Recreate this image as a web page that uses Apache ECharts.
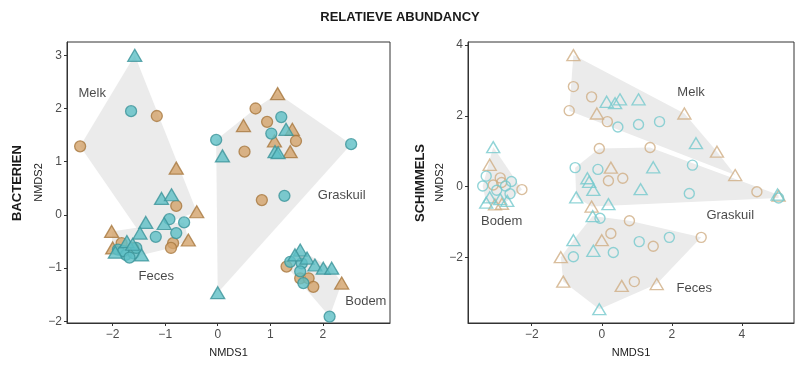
<!DOCTYPE html>
<html><head><meta charset="utf-8">
<script src="https://cdn.jsdelivr.net/npm/echarts@6/dist/echarts.min.js"></script>
<style>html,body{margin:0;padding:0;background:#fff}#c{width:800px;height:366px}</style>
</head><body><div id="c"></div>
<script>
// point = [NMDS1, NMDS2, colourKey (A teal / B tan), shapeKey (o circle / t triangle)]
const bactMelk = [
  [-1.58, 3.00, 'A','t'], [-1.65, 1.95, 'A','o'], [-1.16, 1.86, 'B','o'], [-2.62, 1.29, 'B','o'],
  [-0.79, 0.88, 'B','t'], [-1.07, 0.31, 'A','t'], [-0.88, 0.38, 'A','t'], [-0.79, 0.17, 'B','o'],
  [-0.40, 0.06, 'B','t'], [-1.37, -0.14, 'A','t'], [-1.48, -0.34, 'A','t'], [-0.92, -0.08, 'A','o']
];
const bactFeces = [
  [-1.02, -0.16, 'A','t'], [-0.64, -0.14, 'A','o'], [-1.18, -0.41, 'A','o'], [-0.79, -0.34, 'A','o'],
  [-0.56, -0.47, 'B','t'], [-0.85, -0.53, 'B','o'], [-0.89, -0.62, 'B','o'], [-2.02, -0.31, 'B','t'],
  [-1.83, -0.53, 'B','o'], [-1.61, -0.62, 'B','o'], [-1.90, -0.65, 'A','o'], [-1.75, -0.75, 'A','o'],
  [-1.60, -0.72, 'A','o'], [-1.80, -0.68, 'A','o'], [-1.55, -0.62, 'A','o'], [-1.68, -0.80, 'A','o'],
  [-1.95, -0.70, 'A','t'], [-1.73, -0.50, 'A','t'], [-1.45, -0.75, 'A','t'], [-1.62, -0.55, 'A','t'],
  [-2.00, -0.62, 'B','t']
];
const bactGraskuil = [
  [1.14, 2.28, 'B','t'], [0.72, 2.00, 'B','o'], [1.21, 1.84, 'A','o'], [0.94, 1.75, 'B','o'],
  [0.49, 1.68, 'B','t'], [-0.03, 1.41, 'A','o'], [0.09, 1.11, 'A','t'], [1.02, 1.53, 'A','o'],
  [1.30, 1.61, 'A','t'], [1.42, 1.61, 'B','t'], [1.49, 1.39, 'B','o'], [1.08, 1.39, 'B','t'],
  [1.09, 1.19, 'A','t'], [1.15, 1.17, 'A','t'], [1.38, 1.19, 'B','t'], [0.51, 1.19, 'B','o'],
  [2.54, 1.33, 'A','o'], [0.84, 0.28, 'B','o'], [1.27, 0.36, 'A','o'], [0.00, -1.46, 'A','t']
];
const bactBodem = [
  [1.57, -0.66, 'A','t'], [1.47, -0.75, 'A','t'], [1.38, -0.88, 'A','o'], [1.31, -0.97, 'B','o'],
  [1.60, -0.91, 'A','o'], [1.70, -0.81, 'A','t'], [1.85, -0.94, 'A','t'], [2.01, -1.00, 'A','t'],
  [2.17, -1.00, 'A','t'], [1.57, -1.06, 'A','o'], [1.57, -1.19, 'B','o'], [1.73, -1.19, 'B','o'],
  [1.82, -1.35, 'B','o'], [1.63, -1.28, 'A','o'], [2.36, -1.28, 'B','t'], [2.13, -1.91, 'A','o']
];
const schMelk = [
  [-0.81, 3.72, 'B','t'], [-0.81, 2.83, 'B','o'], [-0.29, 2.54, 'B','o'], [-0.93, 2.15, 'B','o'],
  [0.14, 2.40, 'A','t'], [0.38, 2.36, 'A','t'], [0.52, 2.47, 'A','t'], [1.05, 2.47, 'A','t'],
  [-0.14, 2.07, 'B','t'], [0.16, 1.84, 'B','o'], [0.46, 1.69, 'A','o'], [1.05, 1.76, 'A','o'],
  [1.65, 1.84, 'A','o'], [2.36, 2.07, 'B','t'], [2.69, 1.23, 'A','t'], [3.29, 0.99, 'B','t'],
  [3.81, 0.33, 'B','t']
];
const schGraskuil = [
  [-0.07, 1.08, 'B','o'], [1.38, 1.11, 'B','o'], [-0.76, 0.54, 'A','o'], [-0.11, 0.49, 'A','o'],
  [0.26, 0.54, 'B','t'], [1.47, 0.55, 'A','t'], [-0.41, 0.24, 'A','t'], [-0.36, 0.14, 'A','t'],
  [0.19, 0.17, 'B','o'], [0.60, 0.24, 'B','o'], [-0.24, -0.09, 'A','t'], [1.11, -0.07, 'A','t'],
  [-0.73, -0.30, 'A','t'], [-0.29, -0.56, 'B','t'], [0.19, -0.49, 'A','t'], [2.50, -0.19, 'A','o'],
  [2.59, 0.61, 'A','o'], [4.43, -0.14, 'B','o'], [5.05, -0.25, 'B','t'], [5.05, -0.32, 'A','o'],
  [5.02, -0.22, 'A','t']
];
const schFeces = [
  [-0.05, -0.89, 'A','o'], [-0.26, -0.83, 'A','t'], [0.79, -0.96, 'B','o'], [0.26, -1.32, 'B','o'],
  [0.00, -1.51, 'B','t'], [-0.24, -1.81, 'A','t'], [0.33, -1.86, 'A','o'], [1.07, -1.55, 'A','o'],
  [1.47, -1.68, 'B','o'], [1.93, -1.43, 'A','o'], [2.84, -1.43, 'B','o'], [0.57, -2.80, 'B','t'],
  [0.93, -2.68, 'B','o'], [1.57, -2.75, 'B','t'], [-0.07, -3.46, 'A','t'], [-0.81, -1.51, 'A','t'],
  [-1.17, -1.99, 'B','t'], [-0.81, -1.98, 'A','o'], [-1.10, -2.68, 'B','t']
];
const schBodem = [
  [-3.10, 1.12, 'A','t'], [-3.20, 0.62, 'B','t'], [-3.30, 0.30, 'A','o'], [-2.90, 0.25, 'B','o'],
  [-2.86, 0.12, 'B','o'], [-3.40, 0.02, 'A','o'], [-2.58, 0.15, 'A','o'], [-2.75, 0.02, 'A','o'],
  [-2.28, -0.08, 'B','o'], [-2.62, -0.20, 'A','o'], [-3.20, -0.30, 'A','t'], [-2.90, -0.35, 'A','t'],
  [-3.05, -0.50, 'B','t'], [-2.85, -0.48, 'B','t'], [-2.70, -0.40, 'A','t'], [-3.00, -0.10, 'A','o'],
  [-3.10, 0.05, 'B','o'], [-3.30, -0.45, 'A','t']
];
const bactLabels = [['Melk', -2.39, 2.29], ['Feces', -1.17, -1.16], ['Graskuil', 2.36, 0.37], ['Bodem', 2.82, -1.63]];
const schLabels = [['Melk', 2.55, 2.66], ['Graskuil', 3.67, -0.80], ['Bodem', -2.86, -0.99], ['Feces', 2.64, -2.87]];
const bactXTicks = [-2, -1, 0, 1, 2];
const bactYTicks = [-2, -1, 0, 1, 2, 3];
const schXTicks = [-2, 0, 2, 4];
const schYTicks = [-2, 0, 2, 4];

const FONT = "'Liberation Sans', Arial, sans-serif";
const fillCol = {A: '#5ebfc5', B: '#d3a36a'};
const edgeCol = {A: '#3b939a', B: '#a8783f'};
const hollowCol = {A: '#76c9cd', B: '#cfae84'};

function hull(pts) {
  const p = pts.map(a => [a[0], a[1]]).sort((a, b) => a[0] - b[0] || a[1] - b[1]);
  const cross = (o, a, b) => (a[0]-o[0])*(b[1]-o[1]) - (a[1]-o[1])*(b[0]-o[0]);
  const lo = [], up = [];
  for (const q of p) { while (lo.length >= 2 && cross(lo[lo.length-2], lo[lo.length-1], q) <= 0) lo.pop(); lo.push(q); }
  for (let i = p.length-1; i >= 0; i--) { const q = p[i]; while (up.length >= 2 && cross(up[up.length-2], up[up.length-1], q) <= 0) up.pop(); up.push(q); }
  lo.pop(); up.pop();
  return lo.concat(up);
}
function hullSeries(idx, pts) {
  const h = hull(pts);
  return {
    type: 'custom', xAxisIndex: idx, yAxisIndex: idx, silent: true, z: 1, clip: true,
    encode: {x: 0, y: 1}, data: h,
    renderItem: function (params, api) {
      if (params.dataIndex !== 0) return null;
      return {type: 'polygon', shape: {points: h.map(q => api.coord(q))}, style: {fill: '#ebebeb'}};
    }
  };
}
function pointSeries(idx, groups, hollow) {
  const out = [];
  for (const c of ['B', 'A']) for (const s of ['o', 't']) {
    const data = [];
    groups.forEach(g => g.forEach(p => { if (p[2] === c && p[3] === s) data.push([p[0], p[1]]); }));
    out.push({
      type: 'scatter', xAxisIndex: idx, yAxisIndex: idx, z: 3, silent: true,
      symbol: s === 'o' ? 'circle' : 'triangle',
      symbolSize: s === 'o' ? (hollow ? 10 : 11) : (hollow ? [13, 11] : [14, 12]),
      itemStyle: hollow
        ? {color: 'rgba(0,0,0,0)', borderColor: hollowCol[c], borderWidth: 1.4}
        : {color: fillCol[c], borderColor: edgeCol[c], borderWidth: 1.3},
      data: data
    });
  }
  return out;
}
function labelSeries(idx, labels) {
  return {
    type: 'scatter', xAxisIndex: idx, yAxisIndex: idx, z: 4, silent: true, symbolSize: 0,
    data: labels.map(l => ({value: [l[1], l[2]], name: l[0]})),
    label: {show: true, position: 'inside', formatter: '{b}', color: '#1a1a1a', fontSize: 13, fontFamily: FONT}
  };
}
const fmt = v => String(v).replace('-', '\u2212');
function xAxis(idx, min, max, ticks) {
  return {
    type: 'value', gridIndex: idx, min: min, max: max,
    axisLine: {show: true, onZero: false, lineStyle: {color: '#333', width: 1}},
    axisTick: {show: true, length: 3, customValues: ticks, lineStyle: {color: '#333'}},
    axisLabel: {customValues: ticks, formatter: fmt, color: '#4d4d4d', fontSize: 12, margin: 6, fontFamily: FONT},
    splitLine: {show: false},
    name: 'NMDS1', nameLocation: 'middle', nameGap: 24,
    nameTextStyle: {fontSize: 11, color: '#1a1a1a', fontFamily: FONT}
  };
}
function yAxis(idx, min, max, ticks) {
  return {
    type: 'value', gridIndex: idx, min: min, max: max,
    axisLine: {show: true, onZero: false, lineStyle: {color: '#333', width: 1}},
    axisTick: {show: true, length: 3, customValues: ticks, lineStyle: {color: '#333'}},
    axisLabel: {customValues: ticks, formatter: fmt, color: '#4d4d4d', fontSize: 12, margin: 5, fontFamily: FONT},
    splitLine: {show: false},
    name: 'NMDS2', nameLocation: 'middle', nameGap: 22, nameRotate: 90,
    nameTextStyle: {fontSize: 11, color: '#1a1a1a', fontFamily: FONT}
  };
}

const chart = echarts.init(document.getElementById('c'), null, {renderer: 'canvas'});
chart.setOption({
  animation: false,
  backgroundColor: '#fff',
  title: {text: 'RELATIEVE ABUNDANCY', left: 'center', top: 6,
    textStyle: {fontSize: 13, fontWeight: 'bold', color: '#1a1a1a', fontFamily: FONT}},
  grid: [
    {left: 67, top: 42, width: 323, height: 281, show: true, borderColor: '#333', borderWidth: 1, backgroundColor: 'transparent'},
    {left: 468, top: 42, width: 326, height: 281, show: true, borderColor: '#333', borderWidth: 1, backgroundColor: 'transparent'}
  ],
  xAxis: [xAxis(0, -2.87, 3.28, bactXTicks), xAxis(1, -3.82, 5.49, schXTicks)],
  yAxis: [yAxis(0, -2.03, 3.25, bactYTicks), yAxis(1, -3.85, 4.09, schYTicks)],
  graphic: [
    {type: 'text', x: 17, y: 183, rotation: Math.PI / 2,
      style: {text: 'BACTERIEN', align: 'center', verticalAlign: 'middle', font: "bold 13px 'Liberation Sans', Arial, sans-serif", fill: '#1a1a1a'}},
    {type: 'text', x: 420, y: 183, rotation: Math.PI / 2,
      style: {text: 'SCHIMMELS', align: 'center', verticalAlign: 'middle', font: "bold 13px 'Liberation Sans', Arial, sans-serif", fill: '#1a1a1a'}}
  ],
  series: [
    hullSeries(0, bactMelk), hullSeries(0, bactFeces), hullSeries(0, bactGraskuil), hullSeries(0, bactBodem),
    hullSeries(1, schMelk), hullSeries(1, schGraskuil), hullSeries(1, schFeces), hullSeries(1, schBodem),
    ...pointSeries(0, [bactMelk, bactFeces, bactGraskuil, bactBodem], false),
    ...pointSeries(1, [schMelk, schGraskuil, schFeces, schBodem], true),
    labelSeries(0, bactLabels), labelSeries(1, schLabels)
  ]
});
</script>
</body></html>
